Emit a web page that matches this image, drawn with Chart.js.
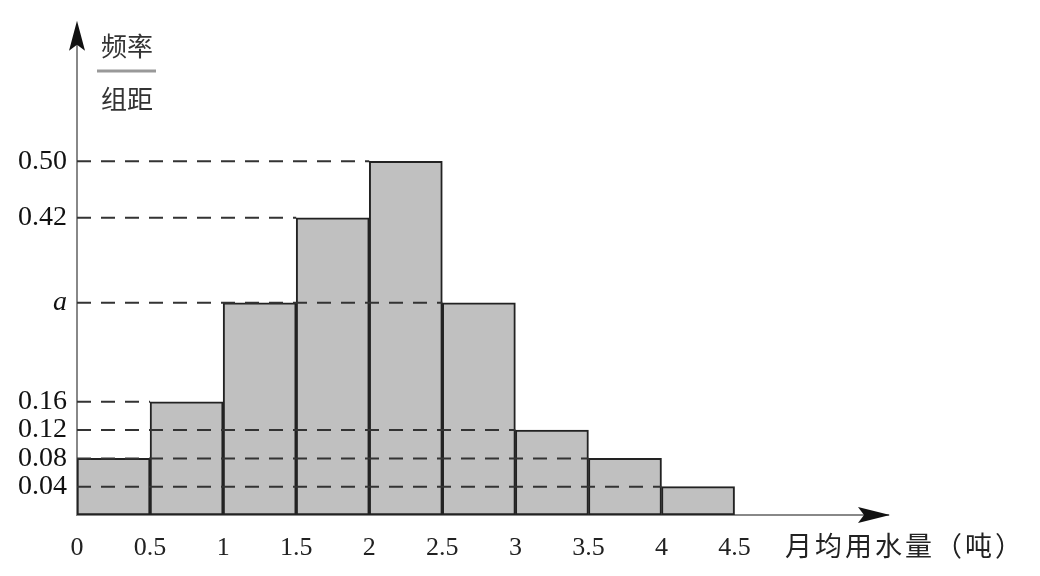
<!DOCTYPE html>
<html>
<head>
<meta charset="utf-8">
<script src="https://cdn.jsdelivr.net/npm/chart.js@4.4.0/dist/chart.umd.min.js"></script>
<style>
html,body{margin:0;padding:0;background:#fff;}
#wrap{width:1040px;height:576px;position:relative;}
</style>
</head>
<body>
<div id="wrap"><canvas id="c" width="1040" height="576"></canvas></div>
<script>
// Data
const binStarts = [0, 0.5, 1, 1.5, 2, 2.5, 3, 3.5, 4];
const binWidth = 0.5;
const A = 0.30; // value of "a"
const heights = [0.08, 0.16, A, 0.42, 0.50, A, 0.12, 0.08, 0.04];
const xTickValues = [0, 0.5, 1, 1.5, 2, 2.5, 3, 3.5, 4, 4.5];
const xTickLabels = ['0', '0.5', '1', '1.5', '2', '2.5', '3', '3.5', '4', '4.5'];
const yTickValues = [0.04, 0.08, 0.12, 0.16, A, 0.42, 0.50];
const yTickLabels = ['0.04', '0.08', '0.12', '0.16', 'a', '0.42', '0.50'];
// dashed reference lines: value and x where the dashes stop
const dashValues = [0.50, 0.42, A, 0.16, 0.12, 0.08, 0.04];
const dashEnds = [2, 1.5, 2.5, 0.5, 3, 3.5, 4];
const xTitle = '月均用水量（吨）';
const yTitleTop = '频率';
const yTitleBottom = '组距';

const barData = binStarts.map((s, i) => ({x: s + binWidth / 2, y: heights[i]}));
const dashDatasets = dashValues.map((v, i) => ({
  type: 'line',
  data: [{x: 0, y: v}, {x: dashEnds[i], y: v}],
  borderColor: '#333',
  borderWidth: 2,
  borderDash: [14, 10],
  pointRadius: 0,
  fill: false,
  order: 0
}));

function spacedText(ctx, text, x, y, gap) {
  for (const ch of text) {
    ctx.fillText(ch, x, y);
    x += ctx.measureText(ch).width + gap;
  }
}

const decor = {
  id: 'decor',
  afterDraw(chart) {
    const ctx = chart.ctx;
    const a = chart.chartArea;
    ctx.save();
    // y arrow
    ctx.fillStyle = '#111';
    ctx.beginPath();
    ctx.moveTo(a.left, a.top - 6);
    ctx.lineTo(a.left - 8, a.top + 24);
    ctx.lineTo(a.left, a.top + 18);
    ctx.lineTo(a.left + 8, a.top + 24);
    ctx.closePath();
    ctx.fill();
    // x arrow
    ctx.beginPath();
    ctx.moveTo(a.right + 2, a.bottom);
    ctx.lineTo(a.right - 30, a.bottom - 8);
    ctx.lineTo(a.right - 24, a.bottom);
    ctx.lineTo(a.right - 30, a.bottom + 8);
    ctx.closePath();
    ctx.fill();
    // x title
    ctx.fillStyle = '#222';
    ctx.font = '27px "Noto Sans CJK SC"';
    ctx.textAlign = 'left';
    ctx.textBaseline = 'middle';
    spacedText(ctx, xTitle, 785, 546, 3);
    // y title (fraction)
    ctx.font = '26px "Noto Sans CJK SC"';
    ctx.textAlign = 'center';
    ctx.fillStyle = '#333';
    ctx.fillText(yTitleTop, 127, 46);
    ctx.fillText(yTitleBottom, 127, 99);
    ctx.strokeStyle = '#999';
    ctx.lineWidth = 3;
    ctx.beginPath();
    ctx.moveTo(97, 71);
    ctx.lineTo(156, 71);
    ctx.stroke();
    ctx.restore();
  }
};

new Chart(document.getElementById('c'), {
  type: 'bar',
  data: {
    datasets: [
      ...dashDatasets,
      {
        type: 'bar',
        data: barData,
        backgroundColor: '#c0c0c0',
        borderColor: '#222',
        borderWidth: 2,
        borderSkipped: false,
        barPercentage: 1,
        categoryPercentage: 1,
        order: 1
      }
    ]
  },
  options: {
    responsive: false,
    animation: false,
    events: [],
    layout: {padding: {top: 18, right: 152, left: 0, bottom: 0}},
    plugins: {legend: {display: false}, tooltip: {enabled: false}},
    scales: {
      x: {
        type: 'linear',
        min: 0,
        max: 5.55,
        offset: false,
        grid: {display: false, offset: false, drawTicks: false},
        border: {display: true, color: '#888', width: 2},
        afterBuildTicks: s => { s.ticks = xTickValues.map(v => ({value: v})); },
        afterFit: s => { s.height = 61; },
        ticks: {
          autoSkip: false,
          maxRotation: 0,
          padding: 18,
          color: '#222',
          font: {family: '"Liberation Serif"', size: 26},
          callback: (v, i) => xTickLabels[i]
        }
      },
      y: {
        min: 0,
        max: 0.69,
        grid: {display: false, drawTicks: false},
        border: {display: true, color: '#888', width: 2},
        afterBuildTicks: s => { s.ticks = yTickValues.map(v => ({value: v})); },
        afterFit: s => { s.width = 77; },
        ticks: {
          autoSkip: false,
          padding: 10,
          color: '#111',
          font: ctx => {
            const v = ctx.tick ? ctx.tick.value : 0;
            if (v === A) return {family: '"Liberation Serif"', size: 28, style: 'italic'};
            return {family: '"Liberation Serif"', size: 28};
          },
          callback: (v, i) => yTickLabels[i]
        }
      }
    }
  },
  plugins: [decor]
});
</script>
</body>
</html>
